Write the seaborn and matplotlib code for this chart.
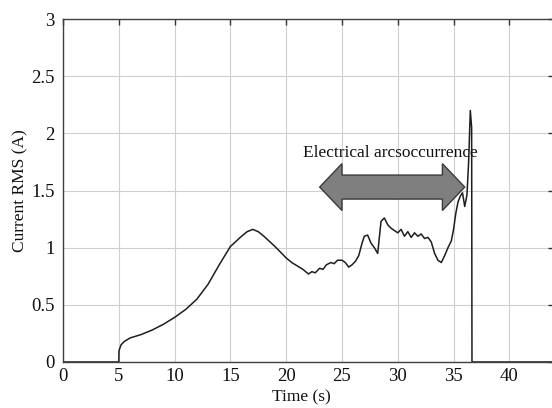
import matplotlib
matplotlib.use("Agg")
import matplotlib.pyplot as plt
import seaborn as sns
import pandas as pd
from matplotlib.patches import Polygon

sns.set_theme(style="whitegrid")
plt.rcParams['font.family'] = ['Liberation Serif', 'DejaVu Serif']

time_s = [0, 5.0, 5.02, 5.2, 5.5, 6, 7, 8, 9, 10, 11, 12, 13, 14, 15, 16, 16.5, 17,
          17.5, 18, 19, 20, 20.5, 21, 21.5, 22, 22.3, 22.6, 23, 23.3, 23.6, 24, 24.3,
          24.6, 25, 25.3, 25.6, 25.9, 26.2, 26.5, 26.8, 27.0, 27.3, 27.6, 27.9, 28.2,
          28.5, 28.8, 29.1, 29.4, 29.7, 30, 30.3, 30.6, 30.9, 31.2, 31.5, 31.8, 32.1,
          32.4, 32.7, 33.0, 33.3, 33.6, 33.9, 34.2, 34.5, 34.8, 35.0, 35.2, 35.4, 35.6,
          35.8, 36.0, 36.2, 36.35, 36.5, 36.62, 36.65, 44.0]
current_rms = [0, 0, 0.10, 0.15, 0.18, 0.21, 0.24, 0.28, 0.33, 0.39, 0.46, 0.55, 0.68,
               0.85, 1.01, 1.10, 1.14, 1.16, 1.14, 1.10, 1.01, 0.91, 0.87, 0.84, 0.81,
               0.77, 0.79, 0.78, 0.82, 0.81, 0.85, 0.87, 0.86, 0.89, 0.89, 0.87, 0.83,
               0.85, 0.88, 0.93, 1.04, 1.10, 1.11, 1.04, 1.00, 0.95, 1.23, 1.26, 1.20,
               1.17, 1.15, 1.13, 1.16, 1.10, 1.14, 1.09, 1.13, 1.10, 1.12, 1.08, 1.09,
               1.05, 0.95, 0.89, 0.87, 0.93, 1.00, 1.06, 1.16, 1.30, 1.40, 1.45, 1.48,
               1.36, 1.46, 1.75, 2.20, 2.05, 0, 0]

x_ticks = [0, 5, 10, 15, 20, 25, 30, 35, 40]
y_ticks = [0, 0.5, 1, 1.5, 2, 2.5, 3]
y_tick_labels = ['0', '0.5', '1', '1.5', '2', '2.5', '3']

annot_text = "Electrical arcsoccurrence"
arrow_x0, arrow_x1, arrow_y = 23.0, 36.0, 1.53
body_half, head_half, head_len = 0.105, 0.205, 2.0

df = pd.DataFrame({"t": time_s, "i": current_rms})

fig = plt.figure(figsize=(5.52, 4.08), dpi=100)
ax = fig.add_axes([63/552, 46/408, 491/552, 343/408])
sns.lineplot(data=df, x="t", y="i", ax=ax, color="#1e1e1e", linewidth=1.1,
             sort=False, estimator=None)

ax.set_xlim(0, 44)
ax.set_ylim(0, 3)
ax.set_xticks(x_ticks)
ax.set_xticklabels([str(v) for v in x_ticks])
ax.set_yticks(y_ticks)
ax.set_yticklabels(y_tick_labels)
ax.set_facecolor("white")
ax.grid(True, color="#cfcfcf", linewidth=0.8, linestyle="-")
for s in ax.spines.values():
    s.set_visible(True)
    s.set_color("#404040")
    s.set_linewidth(1.0)
ax.tick_params(direction="in", top=True, right=True, length=4, width=1,
               color="#303030", labelsize=13.5, labelcolor="#111111")
ax.tick_params(axis="y", pad=6)
ax.tick_params(axis="x", pad=4)
ax.set_xlabel("Time (s)", fontsize=12.5, color="#111111")
ax.set_ylabel("Current RMS (A)", fontsize=12.5, color="#111111")
ax.xaxis.set_label_coords((301-63)/491, -0.08)
ax.yaxis.set_label_coords(-0.071, 0.5)

verts = [
    (arrow_x0, arrow_y),
    (arrow_x0 + head_len, arrow_y + head_half),
    (arrow_x0 + head_len, arrow_y + body_half),
    (arrow_x1 - head_len, arrow_y + body_half),
    (arrow_x1 - head_len, arrow_y + head_half),
    (arrow_x1, arrow_y),
    (arrow_x1 - head_len, arrow_y - head_half),
    (arrow_x1 - head_len, arrow_y - body_half),
    (arrow_x0 + head_len, arrow_y - body_half),
    (arrow_x0 + head_len, arrow_y - head_half),
]
ax.add_patch(Polygon(verts, closed=True, facecolor="#7f7f7f", edgecolor="#3a3a3a",
                     linewidth=1.0, zorder=3))
ax.text(29.3, 1.83, annot_text, ha="center", va="center", fontsize=12.5,
        color="#111111", zorder=4)

fig.savefig("out.png", dpi=100)
